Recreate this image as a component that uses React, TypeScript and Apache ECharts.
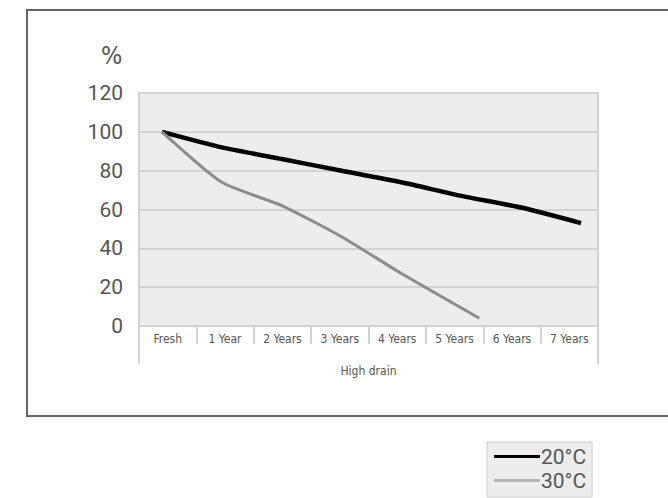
import React, { useEffect, useRef } from "react";
import * as echarts from "echarts";

const categories = ["Fresh", "1 Year", "2 Years", "3 Years", "4 Years", "5 Years", "6 Years", "7 Years"];
const groupLabel = ["High drain"];
const yearsX = [0, 1, 2, 3, 4, 5, 6, 7];
const temp20 = [100, 92, 86, 80, 74, 67, 61, 53];
const temp30X = [0, 1, 2, 3, 4, 5.3];
const temp30 = [100, 74, 62, 46, 27, 4];
const seriesNames = ["20°C", "30°C"];
const unitLabel = "%";

const FONT = "Roboto, 'DejaVu Sans Condensed', sans-serif";
const NARROW = "'DejaVu Sans Condensed', Roboto, sans-serif";

export default function App() {
  const ref = useRef<HTMLDivElement>(null);
  useEffect(() => {
    document.body.style.margin = "0";
    const chart = echarts.init(ref.current!, null, { renderer: "svg" });
    chart.setOption({
      animation: false,
      backgroundColor: "#ffffff",
      textStyle: { fontFamily: FONT },
      title: {
        text: unitLabel,
        left: 101,
        top: 43,
        padding: 0,
        textStyle: { fontSize: 25, fontWeight: "normal", color: "#555", fontFamily: NARROW },
      },
      graphic: [
        {
          type: "rect",
          shape: { x: 27, y: 10, width: 700, height: 406 },
          style: { fill: "none", stroke: "#666666", lineWidth: 2 },
          z: 0,
        },
      ],
      grid: {
        left: 139,
        top: 93,
        right: 70,
        bottom: 172,
        show: true,
        backgroundColor: "#ECEDEC",
        borderColor: "#d2d2d2",
        borderWidth: 2,
      },
      legend: {
        orient: "vertical",
        left: 487,
        top: 442,
        itemWidth: 46,
        itemHeight: 3,
        itemGap: 3,
        icon: "rect",
        backgroundColor: "#ECEDEC",
        borderColor: "#cccccc",
        borderWidth: 1,
        padding: [4, 6, 6, 7],
        textStyle: { fontSize: 21, color: "#555", fontFamily: FONT, padding: [0, 0, 0, -4] },
        data: [
          { name: seriesNames[0], itemStyle: { color: "#000000" } },
          { name: seriesNames[1], itemStyle: { color: "#b4b4b4" } },
        ],
      },
      xAxis: [
        {
          type: "category",
          data: categories,
          position: "bottom",
          axisLine: { show: false },
          axisTick: { show: true, interval: 0, length: 18, lineStyle: { color: "#d2d2d2", width: 2 } },
          axisLabel: { interval: 0, margin: 7, fontSize: 12, color: "#555", fontFamily: NARROW },
          splitLine: { show: false },
        },
        {
          type: "category",
          data: groupLabel,
          position: "bottom",
          axisLine: { show: false },
          axisTick: { show: true, interval: 0, length: 38, lineStyle: { color: "#d2d2d2", width: 2 } },
          axisLabel: { interval: 0, margin: 39, fontSize: 12, color: "#555", fontFamily: NARROW },
          splitLine: { show: false },
        },
        {
          type: "value",
          min: -0.384,
          max: 7.283,
          show: false,
          splitLine: { show: false },
        },
      ],
      yAxis: {
        type: "value",
        min: 0,
        max: 120,
        interval: 20,
        axisLine: { show: false },
        axisTick: { show: true, length: 7, lineStyle: { color: "#d2d2d2", width: 2 } },
        axisLabel: { fontSize: 21, color: "#555", margin: 16, fontFamily: FONT },
        splitLine: { show: true, lineStyle: { color: "#d2d2d2", width: 2 } },
      },
      series: [
        {
          name: seriesNames[0],
          type: "line",
          xAxisIndex: 2,
          data: yearsX.map((x, i) => [x, temp20[i]]),
          showSymbol: false,
          smooth: 0.2,
          lineStyle: { color: "#000000", width: 4.5 },
          itemStyle: { color: "#000000" },
        },
        {
          name: seriesNames[1],
          type: "line",
          xAxisIndex: 2,
          data: temp30X.map((x, i) => [x, temp30[i]]),
          showSymbol: false,
          smooth: 0.2,
          lineStyle: { color: "#8c8c8c", width: 3 },
          itemStyle: { color: "#8c8c8c" },
        },
      ],
    });
    return () => chart.dispose();
  }, []);
  return <div ref={ref} style={{ width: 668, height: 498 }} />;
}
